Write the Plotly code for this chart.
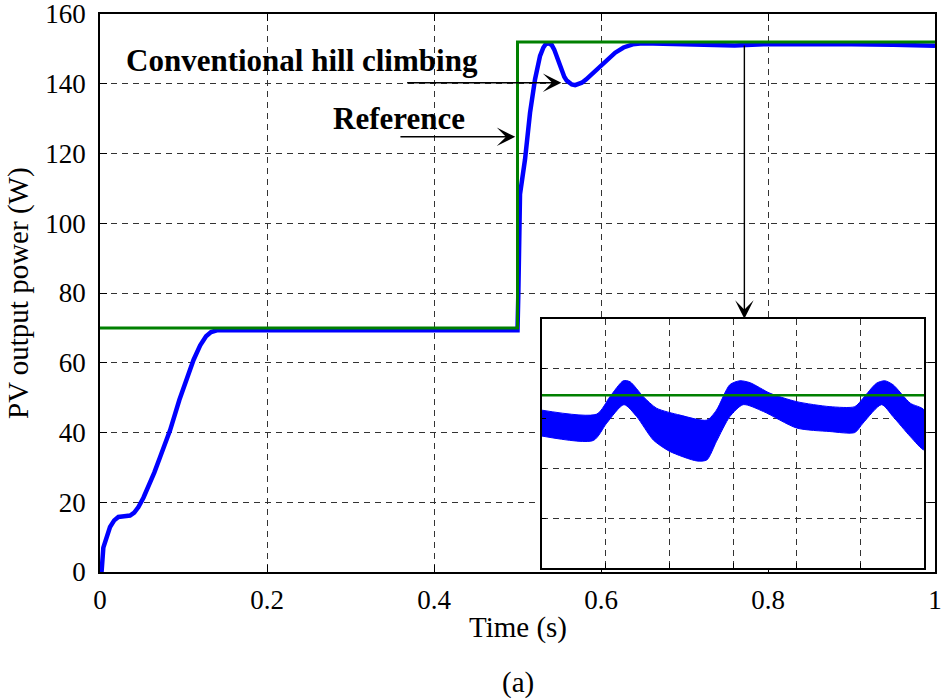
import plotly.graph_objects as go

# ---- Main chart data ----
t_hc = [0, 0.002, 0.004, 0.008, 0.012, 0.017, 0.022, 0.029, 0.036, 0.041, 0.046, 0.052,
        0.058, 0.065, 0.072, 0.078, 0.084, 0.095, 0.103, 0.112, 0.12, 0.127, 0.133, 0.14,
        0.2, 0.3, 0.4, 0.5, 0.501, 0.502, 0.503, 0.509, 0.515, 0.521, 0.527, 0.531, 0.534,
        0.537, 0.541, 0.544, 0.547, 0.55, 0.553, 0.556, 0.559, 0.562, 0.565, 0.569, 0.573,
        0.577, 0.582, 0.588, 0.597, 0.607, 0.617, 0.627, 0.638, 0.65, 0.7, 0.76, 0.8, 0.85,
        0.9, 0.95, 1.0]
p_hc = [0, 0.4, 7, 10.5, 12.9, 14.8, 15.8, 16.0, 16.2, 17.0, 18.6, 21.3,
        24.4, 28.5, 33, 37, 40.7, 49.3, 55.1, 60.8, 65.0, 67.6, 68.8, 69.3,
        69.3, 69.2, 69.3, 69.3, 80, 95, 108.3, 118.3, 131.7, 141.3, 148, 150.4, 151.4,
        151.6, 151.1, 149.8, 147.8, 145.6, 143.6, 142.0, 140.9, 140.2, 139.8, 139.6, 139.8,
        140.3, 141.2, 142.5, 144.8, 147.0, 148.9, 150.4, 151.3, 151.6, 151.4, 151.0, 151.4,
        151.2, 151.3, 151.2, 150.9]

t_ref = [0, 0.5, 0.5, 1.0]
p_ref = [70, 70, 152, 152]

x_ticks = [0, 0.2, 0.4, 0.6, 0.8, 1]
x_tick_text = ["0", "0.2", "0.4", "0.6", "0.8", "1"]
y_ticks = [0, 20, 40, 60, 80, 100, 120, 140, 160]

# ---- Inset (zoomed view) data, in grid-division units ----
ins_x_up = [0, 0.862, 1.07, 1.28, 1.385, 1.594, 1.80, 2.17, 2.59, 2.74, 2.95, 3.11, 3.27,
            3.58, 4.00, 4.52, 4.91, 5.04, 5.25, 5.38, 5.51, 5.78, 6.0]
ins_y_up = [3.17, 3.09, 3.44, 3.76, 3.74, 3.44, 3.21, 3.07, 2.97, 3.17, 3.68, 3.76, 3.72,
            3.51, 3.34, 3.24, 3.24, 3.41, 3.71, 3.76, 3.68, 3.31, 3.17]
ins_x_lo = [0, 0.81, 1.02, 1.29, 1.49, 1.75, 2.01, 2.43, 2.59, 2.74, 2.95, 3.16, 3.48,
            4.00, 4.52, 4.91, 5.04, 5.33, 5.51, 5.78, 6.0]
ins_y_lo = [2.65, 2.56, 2.91, 3.28, 3.04, 2.57, 2.34, 2.15, 2.17, 2.54, 3.04, 3.28, 3.14,
            2.81, 2.74, 2.72, 2.91, 3.28, 3.04, 2.64, 2.37]
ins_ref_x = [0, 6]
ins_ref_y = [3.47, 3.47]

BLUE = "#0000ff"
GREEN = "#008000"
FONT = "Liberation Serif"

fig = go.Figure()

fig.add_trace(go.Scatter(x=t_hc, y=p_hc, mode="lines",
                         line=dict(color=BLUE, width=4.5),
                         xaxis="x", yaxis="y", showlegend=False, hoverinfo="skip"))
fig.add_trace(go.Scatter(x=t_ref, y=p_ref, mode="lines", line=dict(color=GREEN, width=3),
                         xaxis="x", yaxis="y", showlegend=False, hoverinfo="skip"))

# inset band: upper envelope then lower envelope reversed, filled
band_x = ins_x_up + ins_x_lo[::-1]
band_y = ins_y_up + ins_y_lo[::-1]
fig.add_trace(go.Scatter(x=band_x, y=band_y, mode="lines", fill="toself",
                         fillcolor=BLUE, line=dict(color=BLUE, width=1, shape="spline", smoothing=0.7),
                         xaxis="x2", yaxis="y2", showlegend=False, hoverinfo="skip"))
fig.add_trace(go.Scatter(x=ins_ref_x, y=ins_ref_y, mode="lines",
                         line=dict(color=GREEN, width=2.5),
                         xaxis="x2", yaxis="y2", showlegend=False, hoverinfo="skip"))

axis_common = dict(showline=True, linecolor="black", linewidth=1.5, mirror="ticks",
                   ticks="inside", ticklen=7, tickcolor="black", tickwidth=1,
                   showgrid=True, gridcolor="#333333", gridwidth=1, griddash="6px,5px",
                   zeroline=False, automargin=False, ticklabeloverflow="allow",
                   tickfont=dict(family=FONT, size=27, color="black"))

inset_common = dict(showticklabels=False, showline=True, linecolor="black", linewidth=1.5,
                    mirror=True, ticks="inside", ticklen=5, tickcolor="black",
                    showgrid=True, gridcolor="#333333", griddash="6px,5px",
                    zeroline=False, automargin=False, dtick=1)

PLOT_W = 943 - 100 - 8

fig.update_layout(
    width=943, height=700,
    margin=dict(l=100, r=8, t=14, b=128, autoexpand=False),
    paper_bgcolor="white", plot_bgcolor="white",
    xaxis=dict(range=[0, 1], tickvals=x_ticks, ticktext=x_tick_text,
               domain=[0, 1], ticklabelstandoff=3, **axis_common),
    yaxis=dict(range=[0, 160], tickvals=y_ticks, domain=[0, 1], ticklabelstandoff=7, **axis_common),
    xaxis2=dict(range=[0, 6], domain=[(541.7 - 100) / PLOT_W, (924.3 - 100) / PLOT_W],
                anchor="y2", **inset_common),
    yaxis2=dict(range=[0, 5], domain=[0.0072, 0.4534], anchor="x2", **inset_common),
)

ann_font = dict(family=FONT, size=31, color="black")
lab_font = dict(family=FONT, size=29, color="black")
arrow = dict(text="", showarrow=True, arrowhead=3, arrowsize=2.2, arrowwidth=1.4,
             arrowcolor="black", xref="x", yref="y", axref="x", ayref="y")

annotations = [
    # text labels
    dict(x=0.2416, y=146.8, xref="x", yref="y", text="<b>Conventional hill climbing</b>",
         showarrow=False, font=ann_font, xanchor="center", yanchor="middle"),
    dict(x=0.358, y=130.0, xref="x", yref="y", text="<b>Reference</b>",
         showarrow=False, font=ann_font, xanchor="center", yanchor="middle"),
    # arrows
    dict(x=0.5525, y=140.3, ax=0.366, ay=140.3, **arrow),
    dict(x=0.4973, y=124.8, ax=0.358, ay=124.8, **arrow),
    dict(x=0.7717, y=72.6, ax=0.7717, ay=151.4, **arrow),
    # axis titles and caption
    dict(x=(518 - 100) / PLOT_W, y=(572 - 627) / 558, xref="paper", yref="paper", text="Time (s)",
         showarrow=False, font=lab_font, xanchor="center", yanchor="middle"),
    dict(x=(18 - 100) / PLOT_W, y=0.5, xref="paper", yref="paper", text="PV output power (W)",
         showarrow=False, font=lab_font, xanchor="center", yanchor="middle", textangle=-90),
    dict(x=(518 - 100) / PLOT_W, y=(572 - 682) / 558, xref="paper", yref="paper", text="(a)",
         showarrow=False, font=lab_font, xanchor="center", yanchor="middle"),
]
fig.update_layout(annotations=annotations)

fig.write_html("out.html")
